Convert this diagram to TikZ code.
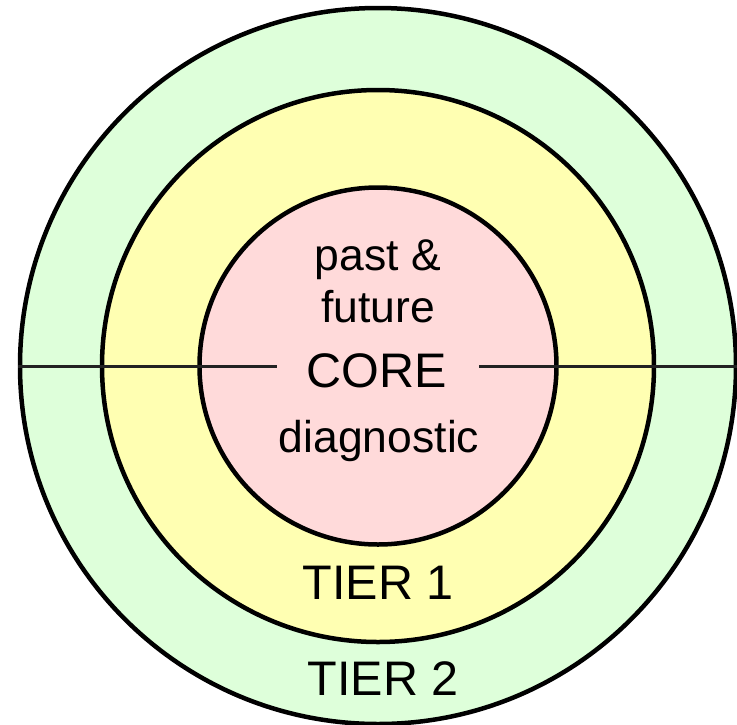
\documentclass[tikz,border=0pt]{standalone}
\usepackage{fontspec}
\setmainfont{Liberation Sans}
\definecolor{tiertwo}{RGB}{222,255,218}
\definecolor{tierone}{RGB}{255,255,178}
\definecolor{corefill}{RGB}{255,218,218}
\definecolor{divline}{RGB}{34,34,34}
\begin{document}
\begin{tikzpicture}[x=1pt,y=-1pt,
  ring/.style={circle, draw=black, line width=4.5pt, inner sep=0pt},
  divider/.style={draw=divline, line width=3pt},
  txt/.style={anchor=base, inner sep=0pt, font=\fontsize{44.5}{50}\selectfont},
  bigtxt/.style={txt, font=\fontsize{48.5}{54}\selectfont}]
\useasboundingbox (0,0) rectangle (737,724);
% three nested rings
\node[ring, fill=tiertwo, minimum size=716pt] (outer) at (378,366) {};
\node[ring, fill=tierone, minimum size=552pt] (middle) at (378,366) {};
\node[ring, fill=corefill, minimum size=357pt] (inner) at (378,366) {};
% horizontal divider, broken around the word CORE
\coordinate (gapL) at (277,366);
\coordinate (gapR) at (479,366);
\draw[divider] (outer.west) -- (gapL);
\draw[divider] (gapR) -- (outer.east);
% labels
\node[txt] (past) at (378,270) {past \&};
\node[txt] (future) at (378,322) {future};
\node[bigtxt] (core) at (377,387) {CORE};
\node[txt] (diag) at (379,452) {diagnostic};
\node[bigtxt] (t1) at (378,599) {TIER 1};
\node[bigtxt] (t2) at (383,695) {TIER 2};
\end{tikzpicture}
\end{document}
